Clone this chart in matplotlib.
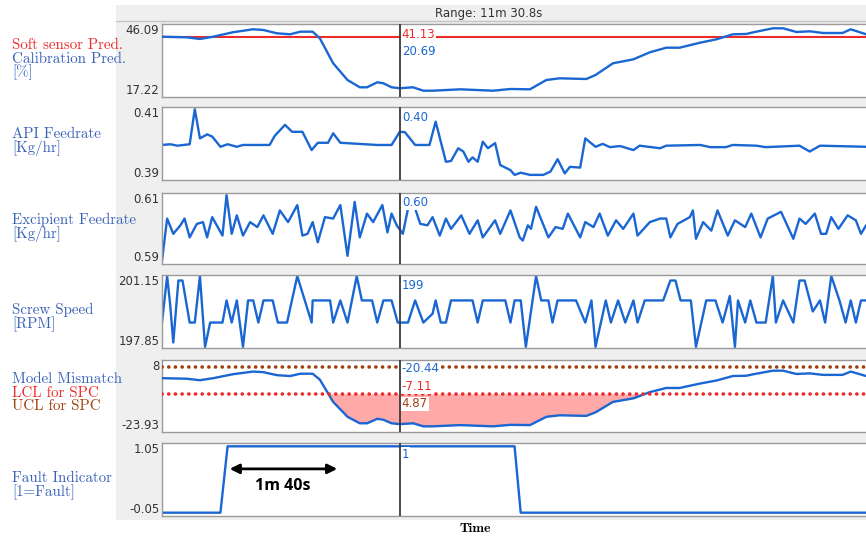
import matplotlib
matplotlib.use("Agg")
import matplotlib.pyplot as plt
from matplotlib.patches import Rectangle
from matplotlib.lines import Line2D

# ------------------------------------------------------------------ data
range_seconds = 690.8
cursor_time = 232

cal_time = [0, 24, 37, 50, 69, 89, 99, 112, 125, 135, 147, 154, 167, 181, 193, 200,
            210, 216, 224, 232, 245, 255, 264, 291, 323, 340, 359, 375, 388, 414, 423,
            440, 460, 476, 492, 505, 525, 541, 557, 570, 577, 596, 606, 619, 632, 645,
            664, 672, 687, 691]
cal_pred = [41.07, 40.83, 40.16, 41.07, 42.81, 44.00, 43.72, 42.41, 42.02, 43.05, 43.05,
            40.43, 30.55, 23.94, 21.06, 21.06, 23.03, 22.64, 21.06, 20.69, 21.06, 19.71,
            19.71, 20.26, 19.71, 20.38, 20.26, 23.94, 24.61, 24.34, 25.92, 30.55, 32.13,
            34.90, 36.72, 36.72, 38.69, 40.04, 42.02, 42.14, 42.81, 44.39, 44.39, 42.93,
            43.20, 42.53, 42.53, 44.00, 42.02, 41.80]
soft_sensor_pred = 41.13
lcl_spc = -7.11
ucl_spc = 4.87

api_time = [0, 8, 15, 27, 32, 37, 44, 49, 57, 64, 73, 79, 105, 110, 120, 127, 137, 146,
            152, 162, 167, 174, 210, 224, 232, 237, 247, 261, 267, 277, 282, 289, 294,
            299, 303, 308, 313, 318, 325, 330, 340, 344, 350, 359, 372, 379, 386, 393,
            398, 408, 413, 423, 430, 437, 447, 460, 466, 486, 492, 525, 535, 550, 557,
            580, 589, 622, 632, 642, 687, 691]
api_feed = [0.3996, 0.3998, 0.3994, 0.3998, 0.4094, 0.4014, 0.4025, 0.4019, 0.3991,
            0.3998, 0.3991, 0.3996, 0.3996, 0.4021, 0.4051, 0.4032, 0.4032, 0.3982,
            0.4002, 0.4002, 0.4028, 0.4002, 0.3996, 0.3996, 0.4032, 0.4031, 0.3996,
            0.3996, 0.4060, 0.3950, 0.3952, 0.3987, 0.3978, 0.3950, 0.3962, 0.3950,
            0.4005, 0.3987, 0.4001, 0.3941, 0.3927, 0.3914, 0.3920, 0.3914, 0.3914,
            0.3923, 0.3957, 0.3918, 0.3936, 0.3934, 0.4014, 0.3991, 0.3999, 0.3990,
            0.3993, 0.3982, 0.3994, 0.3987, 0.3994, 0.3996, 0.3990, 0.3990, 0.3996,
            0.3994, 0.3990, 0.3994, 0.3978, 0.3994, 0.3991, 0.3991]

exc_time = [0, 5, 11, 18, 22, 27, 34, 40, 44, 49, 59, 63, 68, 73, 79, 86, 93, 99, 108,
            115, 123, 132, 137, 142, 147, 152, 159, 167, 174, 181, 188, 193, 200, 206,
            215, 220, 224, 229, 235, 240, 247, 252, 259, 264, 271, 277, 282, 292, 300,
            308, 313, 325, 330, 340, 349, 352, 357, 360, 365, 377, 384, 391, 396, 408,
            413, 421, 427, 435, 443, 450, 460, 464, 476, 486, 492, 496, 503, 515, 518,
            521, 528, 536, 542, 552, 559, 569, 575, 584, 591, 604, 616, 622, 628, 637,
            643, 648, 653, 660, 669, 677, 682, 687, 691]
exc_feed = [0.5909, 0.6028, 0.5985, 0.6009, 0.6028, 0.5975, 0.6013, 0.6018, 0.5975,
            0.6032, 0.5980, 0.6094, 0.5985, 0.6037, 0.5980, 0.6018, 0.6004, 0.6037,
            0.5985, 0.6051, 0.6018, 0.6066, 0.5980, 0.5985, 0.6018, 0.5961, 0.6032,
            0.6028, 0.6066, 0.5923, 0.6075, 0.5975, 0.6042, 0.6018, 0.6066, 0.5989,
            0.6042, 0.6009, 0.5985, 0.6056, 0.6056, 0.6013, 0.6009, 0.6032, 0.5980,
            0.6028, 0.5999, 0.6037, 0.5985, 0.6023, 0.5975, 0.6023, 0.5985, 0.6051,
            0.5975, 0.5966, 0.6009, 0.5999, 0.6061, 0.5975, 0.6004, 0.5999, 0.6042,
            0.5975, 0.6018, 0.6004, 0.6042, 0.5980, 0.6023, 0.5999, 0.6042, 0.5980,
            0.6018, 0.6028, 0.6028, 0.5975, 0.6013, 0.6032, 0.6051, 0.5971, 0.6018,
            0.5994, 0.6051, 0.5980, 0.6023, 0.6004, 0.6042, 0.5975, 0.6028, 0.6047,
            0.5971, 0.6028, 0.6013, 0.6042, 0.5985, 0.5985, 0.6032, 0.5999, 0.6037,
            0.6023, 0.5985, 0.6009, 0.6009]

scr_time = [0, 5, 8, 11, 16, 20, 27, 32, 37, 42, 47, 59, 63, 68, 73, 79, 84, 89, 94, 99,
            108, 113, 122, 132, 146, 147, 164, 167, 174, 181, 190, 195, 205, 210, 216,
            224, 230, 240, 247, 255, 264, 267, 272, 277, 282, 303, 308, 313, 335, 340,
            344, 350, 355, 365, 370, 377, 381, 386, 404, 413, 419, 423, 433, 438, 445,
            452, 460, 464, 471, 489, 496, 501, 506, 516, 521, 531, 540, 547, 554, 559,
            562, 569, 574, 580, 589, 596, 599, 606, 616, 622, 627, 635, 642, 647, 653,
            661, 667, 672, 677, 682, 687, 691]
scr_speed = [199.0, 201.1, 199.8, 198.1, 200.9, 200.9, 199.0, 199.0, 201.1, 197.9,
             199.0, 199.0, 200.0, 199.0, 200.0, 197.9, 200.0, 200.0, 199.0, 200.0,
             200.0, 199.0, 199.0, 201.1, 199.0, 200.0, 200.0, 199.0, 200.0, 199.0,
             201.1, 200.0, 200.0, 199.0, 200.0, 200.0, 199.0, 199.0, 200.0, 199.0,
             199.4, 200.0, 199.0, 199.0, 200.0, 200.0, 199.0, 200.0, 200.0, 199.0,
             200.0, 200.0, 197.9, 201.1, 200.0, 200.0, 199.0, 200.0, 200.0, 199.0,
             200.0, 197.9, 200.0, 199.0, 200.0, 199.0, 200.0, 199.0, 200.0, 200.0,
             200.9, 200.9, 200.0, 200.0, 197.9, 200.0, 200.0, 199.0, 200.2, 197.9,
             200.0, 199.0, 200.0, 199.0, 199.0, 201.1, 199.0, 200.0, 199.0, 200.9,
             200.9, 199.5, 200.0, 199.0, 201.1, 200.0, 199.0, 200.0, 199.0, 200.0,
             200.0, 200.0]

fault_time = [0, 57, 64, 344, 350, 691]
fault_flag = [0, 0, 1, 1, 0, 0]

y_limits = [(17.22, 46.09), (0.39, 0.41), (0.59, 0.61), (197.85, 201.15),
            (-23.93, 8.0), (-0.05, 1.05)]
y_tick_labels = [("17.22", "46.09"), ("0.39", "0.41"), ("0.59", "0.61"),
                 ("197.85", "201.15"), ("-23.93", "8"), ("-0.05", "1.05")]

model_mismatch = [v - soft_sensor_pred for v in cal_pred]

# ------------------------------------------------------------------ style
W, H = 866, 540
BLUE = "#1a66d2"
LBLUE = "#3a63b8"
RED = "#ee2b2b"
BROWN = "#a0400f"
SERIF = ["cmr10", "DejaVu Serif"]
SANS = "DejaVu Sans"

fig = plt.figure(figsize=(W / 100, H / 100), dpi=100)
fig.patch.set_facecolor("white")


def fx(px):
    return px / W


def fy(py):
    return 1 - py / H


bg = Rectangle((fx(116), fy(520)), fx(760), (520 - 5) / H,
               transform=fig.transFigure, facecolor="#efefef",
               edgecolor="none", zorder=-10)
fig.add_artist(bg)
fig.add_artist(Line2D([fx(116), 1], [fy(21), fy(21)], color="#c4c4c4", lw=1,
                      zorder=-9))
fig.text(fx(489), fy(14), "Range: 11m 30.8s", ha="center", va="center",
         fontsize=8.5, color="#333333", family=SANS)

boxes = [(24, 97), (107, 180), (193, 264), (275, 348), (360, 432), (443, 516)]
axes = []
for (top, bot), (lo, hi), (l0, l1) in zip(boxes, y_limits, y_tick_labels):
    ax = fig.add_axes([fx(162), fy(bot), 708 / W, (bot - top) / H])
    ax.set_facecolor("white")
    ax.set_xlim(0, range_seconds)
    ax.set_ylim(lo, hi)
    ax.set_xticks([])
    ax.set_yticks([lo, hi])
    ax.set_yticklabels([l0, l1])
    ax.tick_params(axis="y", length=0, pad=2, labelsize=8.5, labelcolor="#333333")
    tl = ax.get_yticklabels()
    tl[0].set_va("bottom")
    tl[1].set_va("top")
    for t in tl:
        t.set_family(SANS)
    for s in ax.spines.values():
        s.set_color("#9a9a9a")
        s.set_linewidth(1.0)
    ax.axvline(cursor_time, color="#3a3a3a", lw=1.3, zorder=5)
    axes.append(ax)

lw = 1.7
# panel 1
ax = axes[0]
ax.axhline(soft_sensor_pred, color=RED, lw=1.5, zorder=2)
ax.plot(cal_time, cal_pred, color=BLUE, lw=lw, zorder=3)
# panel 2
axes[1].plot(api_time, api_feed, color=BLUE, lw=lw)
# panel 3
axes[2].plot(exc_time, exc_feed, color=BLUE, lw=lw)
# panel 4
axes[3].plot(scr_time, scr_speed, color=BLUE, lw=lw)
# panel 5
ax = axes[4]
ax.fill_between(cal_time, model_mismatch, lcl_spc,
                where=[m < lcl_spc for m in model_mismatch], interpolate=True,
                color="#ffa9a9", lw=0, zorder=1)
ax.plot(cal_time, model_mismatch, color=BLUE, lw=lw, zorder=3)
dot = dict(lw=2.6, linestyle=(0, (0.05, 1.8)), dash_capstyle="round", zorder=4)
ax.axhline(ucl_spc, color=BROWN, **dot)
ax.axhline(lcl_spc, color=RED, **dot)
# panel 6
ax = axes[5]
ax.plot(fault_time, fault_flag, color=BLUE, lw=lw)
ax.annotate("", xy=(171, 0.66), xytext=(66, 0.66),
            arrowprops=dict(arrowstyle="<|-|>", color="black", lw=2,
                            mutation_scale=14, shrinkA=0, shrinkB=0))
ax.text(118, 0.40, "1m 40s", ha="center", va="center", fontsize=11.5,
        fontweight="bold", family="Open Sans", color="black")

# cursor value labels
cursor_labels = [
    (0, "41.13", RED, 0.86),
    (0, "20.69", BLUE, 0.63),
    (1, "0.40", BLUE, 0.85),
    (2, "0.60", BLUE, 0.86),
    (3, "199", BLUE, 0.86),
    (4, "-20.44", BLUE, 0.875),
    (4, "-7.11", RED, 0.625),
    (4, "4.87", BROWN, 0.39),
    (5, "1", BLUE, 0.84),
]
for i, s, c, yf in cursor_labels:
    axes[i].annotate(s, xy=(cursor_time, yf), xycoords=("data", "axes fraction"),
                     xytext=(1.5, 0), textcoords="offset points", ha="left",
                     va="center", fontsize=8.5, color=c, family=SANS, zorder=6,
                     bbox=dict(facecolor="white", edgecolor="none", pad=0.6))

# left labels
left_labels = [
    ("Soft sensor Pred.", RED, 45),
    ("Calibration Pred.", LBLUE, 59),
    ("[%]", LBLUE, 72),
    ("API Feedrate", LBLUE, 134),
    ("[Kg/hr]", LBLUE, 148),
    ("Excipient Feedrate", LBLUE, 220),
    ("[Kg/hr]", LBLUE, 234),
    ("Screw Speed", LBLUE, 310),
    ("[RPM]", LBLUE, 324),
    ("Model Mismatch", LBLUE, 379),
    ("LCL for SPC", RED, 393),
    ("UCL for SPC", BROWN, 406),
    ("Fault Indicator", LBLUE, 478),
    ("[1=Fault]", LBLUE, 492),
]
for s, c, y in left_labels:
    fig.text(fx(12), fy(y), s, ha="left", va="center", fontsize=10.8,
             color=c, family=SERIF, zorder=10)

fig.text(fx(475), fy(529), "Time", ha="center", va="center", fontsize=10,
         color="black", family=["cmb10", "DejaVu Serif"])

fig.savefig("out.png", dpi=100)
